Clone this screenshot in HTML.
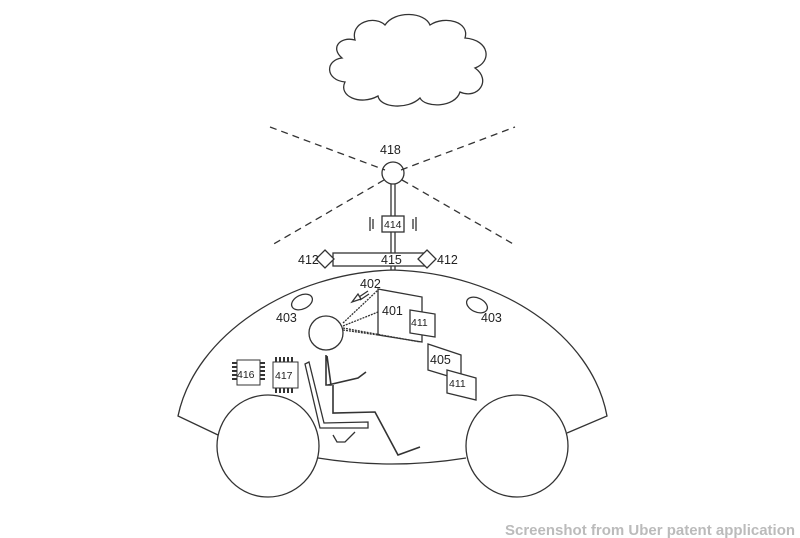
<!DOCTYPE html>
<html><head><meta charset="utf-8"><style>
html,body{margin:0;padding:0;background:#fff;width:800px;height:538px;overflow:hidden}
svg{display:block}
text{font-family:"Liberation Sans",sans-serif;fill:#222}
</style></head><body>
<svg width="800" height="538" viewBox="0 0 800 538">
<g fill="none" stroke="#333" stroke-width="1.3">
<path d="M355,40 C350,22 375,15 385,25 C395,10 425,12 430,25 C445,15 470,22 465,38 C490,40 492,62 475,68 C492,80 478,100 460,92 C455,108 425,108 420,98 C408,110 380,108 378,96 C360,106 338,96 345,82 C325,80 325,60 342,58 C330,48 340,36 355,40 Z"/>
<g stroke-dasharray="7,5">
<line x1="270" y1="127" x2="385" y2="170"/>
<line x1="401" y1="170" x2="515" y2="127"/>
<line x1="384" y1="180" x2="272" y2="245"/>
<line x1="402" y1="180" x2="515" y2="245"/>
</g>
<circle cx="393" cy="173" r="11"/>
<line x1="391" y1="184" x2="391" y2="270"/><line x1="395" y1="184" x2="395" y2="270"/>
<rect x="382" y="216" width="22" height="16" fill="#fff"/>
<line x1="370" y1="217" x2="370" y2="231"/><line x1="373" y1="219" x2="373" y2="229"/>
<line x1="416" y1="217" x2="416" y2="231"/><line x1="413" y1="219" x2="413" y2="229"/>
<rect x="333" y="253" width="92" height="13" fill="#fff"/>
<path d="M325,250 L334,259 L325,268 L316,259 Z" fill="#fff"/>
<path d="M427,250 L436,259 L427,268 L418,259 Z" fill="#fff"/>
<path d="M218,435 L178,416 C195,335 290,273 393,270 C500,273 592,335 607,416 L567,433 M318,458 Q392,470 466,458"/>
<circle cx="268" cy="446" r="51"/>
<circle cx="517" cy="446" r="51"/>
<ellipse cx="302" cy="302" rx="11" ry="7" transform="rotate(-25 302 302)"/>
<ellipse cx="477" cy="305" rx="11" ry="7" transform="rotate(25 477 305)"/>
<circle cx="326" cy="333" r="17"/>
<path d="M343,323 L378,290 M343,326 L378,312 M343,328 L420,342 M343,330 L378,335" stroke-dasharray="2,1"/>
<path d="M378,289 L422,297 L422,342 L378,335 Z"/>
<path d="M410,310 L435,314 L435,337 L410,333 Z" fill="#fff"/>
<path d="M428,344 L461,355 L461,380 L428,370 Z"/>
<path d="M447,370 L476,378 L476,400 L447,393 Z" fill="#fff"/>
<path d="M352,302 L358,294 L361,299 Z M359,297 L368,291 M360,300 L369,294"/>
<rect x="237" y="360" width="23" height="25" stroke-width="1"/>
<path d="M232,363 h5 M232,367 h5 M232,371 h5 M232,375 h5 M232,379 h5 M260,363 h5 M260,367 h5 M260,371 h5 M260,375 h5 M260,379 h5" stroke-width="2"/>
<rect x="273" y="362" width="25" height="26" stroke-width="1"/>
<path d="M276,357 v5 M280,357 v5 M284,357 v5 M288,357 v5 M292,357 v5 M276,388 v5 M280,388 v5 M284,388 v5 M288,388 v5 M292,388 v5" stroke-width="2"/>
<path d="M309,362 L324,423 L368,422 L368,428 L320,428 L305,364 Z M333,435 L337,442 L345,442 L355,432"/>
<path d="M326,355 L326,385 L331,385 L327,356 M328,385 L358,378 L366,372 M333,385 L333,413 L375,412 L398,455 L420,447" stroke-width="1.6"/>
</g>
<g font-size="12.5">
<text x="380" y="154">418</text>
<text x="384" y="228" font-size="10.5">414</text>
<text x="381" y="264">415</text>
<text x="298" y="264">412</text>
<text x="437" y="264">412</text>
<text x="360" y="288">402</text>
<text x="382" y="315">401</text>
<text x="411" y="326" font-size="10.5">411</text>
<text x="276" y="322">403</text>
<text x="481" y="322">403</text>
<text x="430" y="364">405</text>
<text x="449" y="387" font-size="10.5">411</text>
<text x="237" y="378" font-size="10.5">416</text>
<text x="275" y="379" font-size="10.5">417</text>
</g>
<text x="505" y="535" font-size="15" font-weight="bold" style="fill:#bbb">Screenshot from Uber patent application</text>
</svg>
</body></html>
